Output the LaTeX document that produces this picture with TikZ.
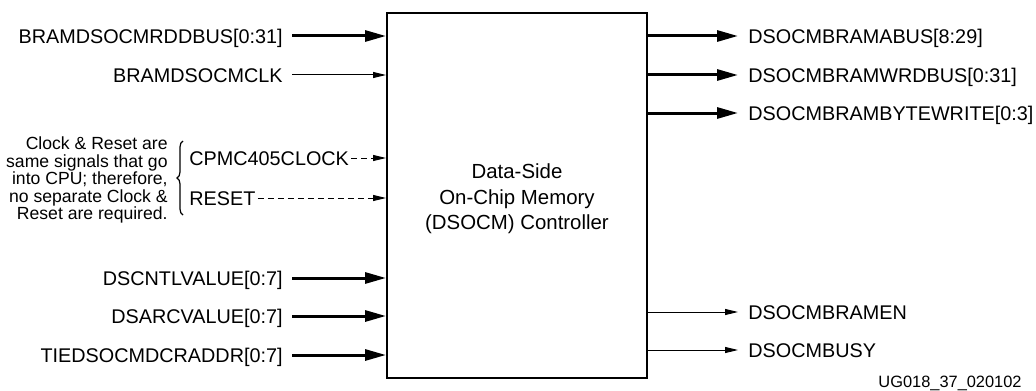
\documentclass[tikz,border=0pt]{standalone}
\usepackage{fontspec}
\setmainfont{Liberation Sans}
\usetikzlibrary{arrows.meta, positioning, decorations.pathreplacing}

\begin{document}
\begin{tikzpicture}[
    x=0.5pt, y=-0.5pt,
    signal/.style={font=\fontsize{9.9}{11.9}\selectfont, inner ysep=0pt,
                   text height=7.1pt, text depth=0pt},
    insig/.style={signal, anchor=east, inner xsep=4.5pt},
    outsig/.style={signal, anchor=west, inner xsep=5pt},
    bus/.style={-{Triangle[length=10.5pt, width=5.5pt]}, line width=1.5pt},
    wire/.style={-{Triangle[length=6.5pt, width=3pt]}, line width=0.5pt},
    dashwire/.style={wire, dash pattern=on 3pt off 2pt},
]
\useasboundingbox (0,0) rectangle (1036,390);

% the controller block
\node[draw, line width=1pt, minimum width=130pt, minimum height=182.5pt,
      inner sep=0pt] (dsocm) at (517,195.5) {};
\node[align=center, font=\fontsize{10.2}{12.75}\selectfont]
      (dsocmname) at (517,199) {Data-Side\\On-Chip Memory\\(DSOCM) Controller};

% inputs
\node[insig] (rddbus) at (292,36)  {BRAMDSOCMRDDBUS[0:31]};
\node[insig] (bramclk) at (292,75) {BRAMDSOCMCLK};
\node[signal, anchor=west, inner xsep=1pt] (cpuclk) at (187,158) {CPMC405CLOCK};
\node[signal, anchor=west, inner xsep=1pt] (reset) at (187,198)  {RESET};
\node[insig] (cntlval) at (292,278) {DSCNTLVALUE[0:7]};
\node[insig] (arcval) at (292,316)  {DSARCVALUE[0:7]};
\node[insig] (dcraddr) at (292,355) {TIEDSOCMDCRADDR[0:7]};

\draw[bus]  (rddbus.east)  -- (rddbus.east -| dsocm.west);
\draw[wire] (bramclk.east) -- (bramclk.east -| dsocm.west);
\draw[dashwire] (cpuclk.east) -- (cpuclk.east -| dsocm.west);
\draw[dashwire] (reset.east)  -- (reset.east -| dsocm.west);
\draw[bus]  (cntlval.east) -- (cntlval.east -| dsocm.west);
\draw[bus]  (arcval.east)  -- (arcval.east -| dsocm.west);
\draw[bus]  (dcraddr.east) -- (dcraddr.east -| dsocm.west);

% note on clock and reset
\coordinate (bracetop) at (183,141);
\coordinate (bracebot) at (183,215);
\draw[decorate, decoration={brace, amplitude=3pt}, line width=0.6pt]
    (bracebot) -- (bracetop);
\node[font=\fontsize{8.8}{8.75}\selectfont, align=right, anchor=east,
      inner sep=0pt] (note) at (168,180)
    {Clock \& Reset are\\same signals that go\\into CPU; therefore,\\no separate Clock \&\\Reset are required.};

% outputs
\node[outsig] (abus) at (738,36)     {DSOCMBRAMABUS[8:29]};
\node[outsig] (wrdbus) at (738,75)   {DSOCMBRAMWRDBUS[0:31]};
\node[outsig] (bytewr) at (738,113)  {DSOCMBRAMBYTEWRITE[0:3]};
\node[outsig] (bramen) at (738,312)  {DSOCMBRAMEN};
\node[outsig] (busy) at (738,350)    {DSOCMBUSY};

\draw[bus]  (abus.west -| dsocm.east)   -- (abus.west);
\draw[bus]  (wrdbus.west -| dsocm.east) -- (wrdbus.west);
\draw[bus]  (bytewr.west -| dsocm.east) -- (bytewr.west);
\draw[wire] (bramen.west -| dsocm.east) -- (bramen.west);
\draw[wire] (busy.west -| dsocm.east)   -- (busy.west);

\node[font=\fontsize{8.2}{9}\selectfont, anchor=east, inner sep=0pt]
    (figid) at (1022,383) {UG018\_37\_020102};
\end{tikzpicture}
\end{document}
